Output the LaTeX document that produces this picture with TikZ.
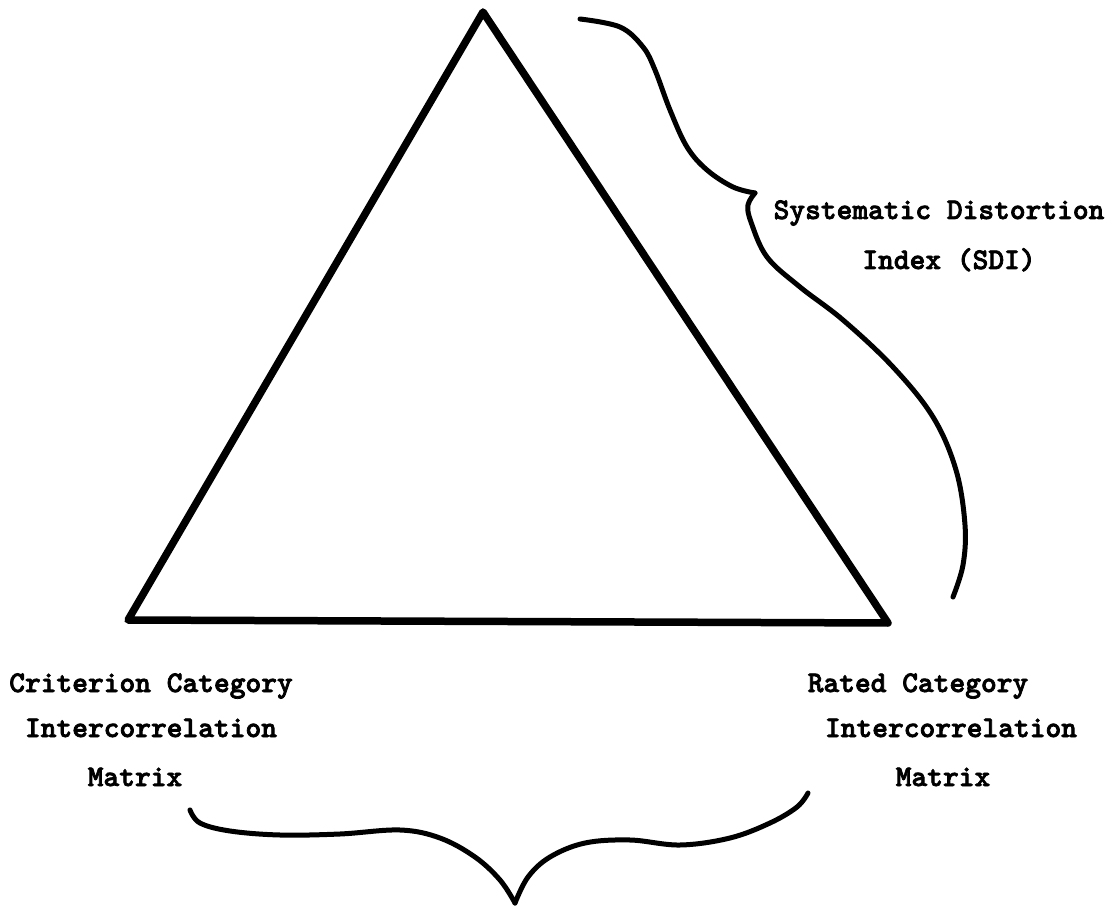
\documentclass[tikz,border=0pt]{standalone}
\usepackage{fontspec}
\usepackage{tikz}
\usetikzlibrary{positioning}

\newfontfamily\typewr{lmmonolt10-bold.otf}[FakeBold=2.5]

\begin{document}
\begin{tikzpicture}[
    x=1pt, y=-1pt,
    edgeline/.style={line width=7.5pt, line join=round, line cap=round},
    curly/.style={line width=5pt, line cap=round, line join=round},
    txt/.style={font=\fontsize{30}{36}\selectfont\typewr, inner sep=0pt, anchor=base}
]
\useasboundingbox (0,0) rectangle (1120,909);

% Triangle corners
\coordinate (apex) at (483,12);
\coordinate (crit) at (128,620);
\coordinate (rated) at (888,623);

\draw[edgeline] (apex) -- (crit) -- (rated) -- cycle;

% SDI brace (right side)
\draw[curly] plot[smooth, tension=0.6] coordinates {(580,19) (620,27) (643,47) (655,70) (670,110) (687,147) (707,170) (733,187) (755,193)};
\draw[curly] plot[smooth, tension=0.6] coordinates {(755,193) (748,205) (751,222) (767,257) (800,287) (843,320) (893,367) (933,417) (956,470) (965,525) (963,565) (953,597)};

% Bottom brace
\draw[curly] plot[smooth, tension=0.6] coordinates {(190,810) (200,823) (230,831) (280,835) (340,834) (400,830) (440,838) (475,857) (500,880) (515,903)};
\draw[curly] plot[smooth, tension=0.6] coordinates {(515,903) (528,877) (550,857) (585,843) (630,840) (680,845) (730,838) (770,823) (797,807) (808,793)};

% Labels
\node[txt] (sdi1) at (939,219) {Systematic Distortion};
\node[txt] (sdi2) at (949,269) {Index (SDI)};

\node[txt] (crit1) at (151,692) {Criterion Category};
\node[txt] (crit2) at (151,737) {Intercorrelation};
\node[txt] (crit3) at (135,786) {Matrix};

\node[txt] (rated1) at (918,692) {Rated Category};
\node[txt] (rated2) at (951,737) {Intercorrelation};
\node[txt] (rated3) at (943,786) {Matrix};

\end{tikzpicture}
\end{document}
